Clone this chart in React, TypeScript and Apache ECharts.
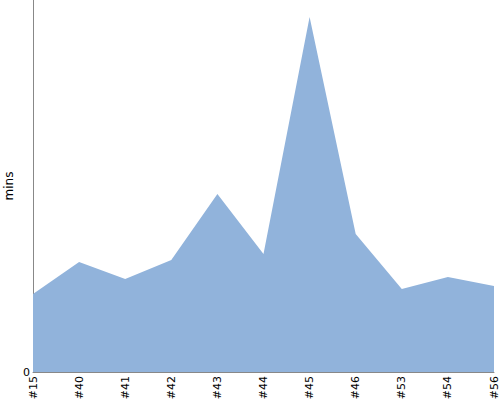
import React, { useEffect, useRef } from "react";
import * as echarts from "echarts";

const categories = ["#15", "#40", "#41", "#42", "#43", "#44", "#45", "#46", "#53", "#54", "#56"];
const durations = [8.39, 11.83, 10.0, 12.04, 19.14, 12.69, 38.17, 14.84, 8.92, 10.22, 9.25];
const yMax = 40;

export default function App() {
  const ref = useRef<HTMLDivElement>(null);
  useEffect(() => {
    if (!ref.current) return;
    const chart = echarts.init(ref.current, undefined, { renderer: "svg" });
    chart.setOption({
      animation: false,
      textStyle: { fontFamily: "DejaVu Sans" },
      grid: { left: 33, right: 6, top: 0, bottom: 28, containLabel: false, outerBoundsMode: "none" },
      xAxis: {
        type: "category",
        data: categories,
        boundaryGap: false,
        axisLine: { show: true, lineStyle: { color: "#888", width: 1 } },
        axisTick: { show: false },
        axisLabel: {
          interval: 0,
          rotate: 90,
          margin: 4,
          color: "#000",
          fontSize: 11,
          fontFamily: "DejaVu Sans",
        },
        splitLine: { show: false },
      },
      yAxis: {
        type: "value",
        min: 0,
        max: yMax,
        interval: yMax,
        name: "mins",
        nameLocation: "middle",
        nameGap: 18,
        nameMoveOverlap: false,
        nameTextStyle: { color: "#000", fontSize: 12, fontFamily: "DejaVu Sans" },
        axisLine: { show: true, lineStyle: { color: "#888", width: 1 } },
        axisTick: { show: false },
        axisLabel: {
          color: "#000",
          fontSize: 11,
          margin: 3,
          showMaxLabel: false,
          fontFamily: "DejaVu Sans",
        },
        splitLine: { show: false },
      },
      series: [
        {
          type: "line",
          data: durations,
          symbol: "none",
          lineStyle: { width: 0 },
          areaStyle: { color: "#91b3db", opacity: 1 },
        },
      ],
    });
    return () => chart.dispose();
  }, []);
  return <div ref={ref} style={{ width: 500, height: 400, position: "absolute", left: 0, top: 0 }} />;
}
